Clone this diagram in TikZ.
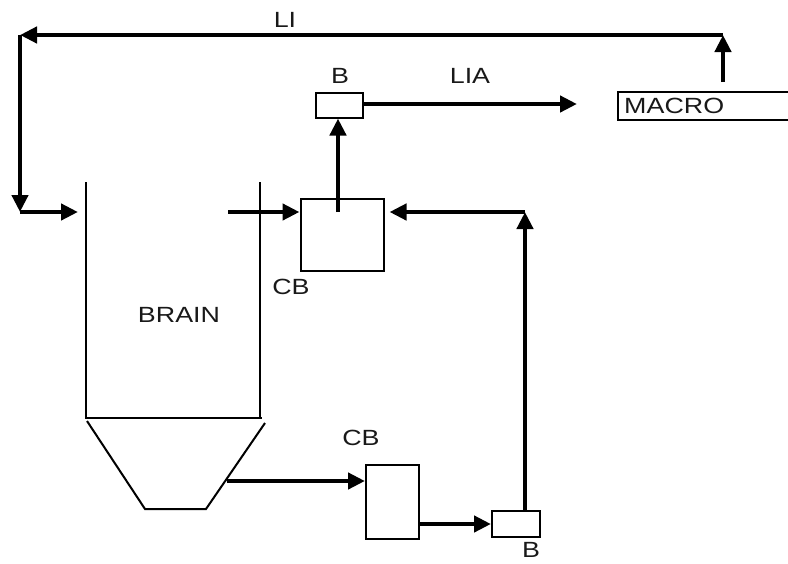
\documentclass[tikz,border=0pt]{standalone}
\usepackage{fontspec}
\setmainfont{Liberation Sans}
\usetikzlibrary{arrows.meta}
\begin{document}
\begin{tikzpicture}[x=1pt,y=-1pt,
  thin/.style={line width=2pt,black},
  arr/.style={line width=4.3pt,-{Triangle[length=17pt,width=16pt]}},
  box/.style={draw,line width=2pt,rectangle,inner sep=0pt},
  lbl/.style={font=\fontsize{22}{22}\selectfont,text=black!90,xscale=1.22,inner sep=0pt}]
\useasboundingbox (0,0) rectangle (788,563);
% boxes
\node[box,minimum width=83pt,minimum height=72pt] (cb1) at (342,235) {};
\node[box,minimum width=47pt,minimum height=25pt] (b1) at (339.5,105) {};
\node[box,minimum width=53pt,minimum height=74pt] (cb2) at (392.5,502) {};
\node[box,minimum width=48pt,minimum height=26pt] (b2) at (516,524) {};
% macro open box
\draw[thin] (788,92) -- (618,92) -- (618,120) -- (788,120);
\node[lbl,anchor=west] (macro) at (624,106) {MACRO};
% brain silo
\draw[thin] (86,182) -- (86,418) -- (262,418);
\draw[thin] (260,182) -- (260,418);
\draw[thin] (87,421) -- (145,509) -- (206,509) -- (265,423);
% labels
\node[lbl] (li) at (285,20) {LI};
\node[lbl] (bl1) at (340,76) {B};
\node[lbl] (lia) at (470,76) {LIA};
\node[lbl] (cbl1) at (291,287) {CB};
\node[lbl] (brain) at (179,315) {BRAIN};
\node[lbl] (cbl2) at (361,438) {CB};
\node[lbl] (bl2) at (531,550) {B};
% coordinates
\coordinate (m1) at (723,82);
\coordinate (tr) at (723,35);
\coordinate (tl) at (20,35);
\coordinate (bl) at (20,212);
\coordinate (inl) at (78,212);
\coordinate (s1) at (228,212);
\coordinate (c1) at (338,212);
\coordinate (liaend) at (577,104);
\coordinate (h1) at (227,481);
\coordinate (rc) at (525,212);
% connectors
\draw[arr] (m1) -- (tr);
\draw[arr] (tr) -- (tl);
\draw[arr] (tl) -- (bl);
\draw[arr] (bl) -- (inl);
\draw[arr] (s1) -- (s1 -| cb1.west);
\draw[arr] (c1) -- (c1 |- b1.south);
\draw[arr] (b1.east |- liaend) -- (liaend);
\draw[arr] (h1) -- (h1 -| cb2.west);
\draw[arr] (cb2.east |- 0,524) -- (b2.west |- 0,524);
\draw[arr] (rc |- b2.north) -- (rc);
\draw[arr,shorten >=5pt] (rc) -- (rc -| cb1.east);
\end{tikzpicture}
\end{document}
